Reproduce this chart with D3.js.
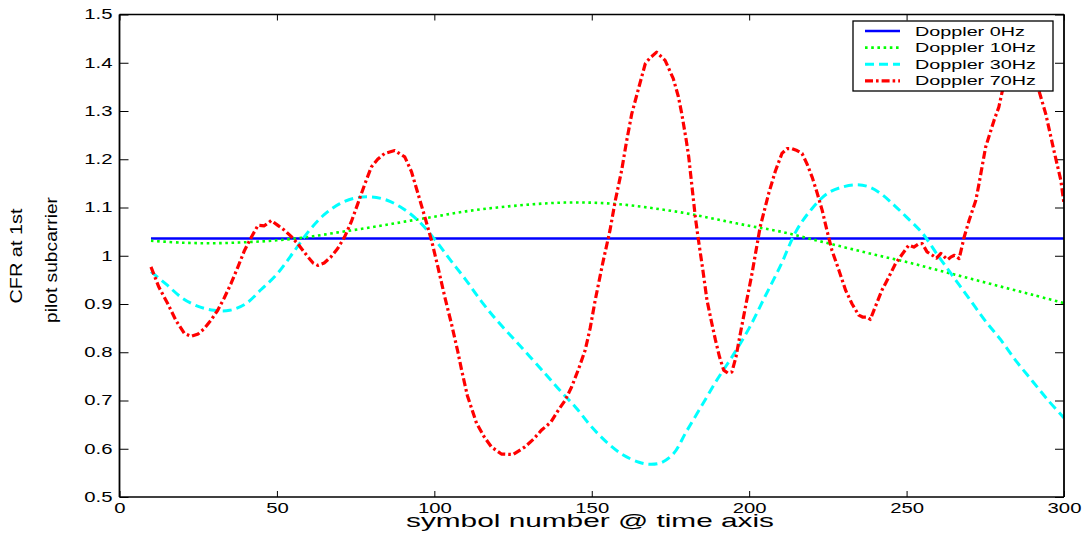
<!DOCTYPE html>
<html>
<head>
<meta charset="utf-8">
<script src="https://cdn.jsdelivr.net/npm/d3@7"></script>
<style>
  body { margin: 0; background: #fff; }
  svg { display: block; }
  text { font-family: "Liberation Sans", Arial, Helvetica, sans-serif; fill: #000; }
</style>
</head>
<body>
<svg id="chart" width="1089" height="536"></svg>
<script>
// Axis ticks
const xTicks = [0, 50, 100, 150, 200, 250, 300];
const yTicks = [0.5, 0.6, 0.7, 0.8, 0.9, 1.0, 1.1, 1.2, 1.3, 1.4, 1.5];
const yTickLabels = ["0.5", "0.6", "0.7", "0.8", "0.9", "1", "1.1", "1.2", "1.3", "1.4", "1.5"];

// Series names
const seriesNames = ["Doppler 0Hz", "Doppler 10Hz", "Doppler 30Hz", "Doppler 70Hz"];

// Doppler 0Hz
const dop0X = [10, 300];
const dop0Y = [1.036, 1.036];

// Doppler 10Hz
const dop10X = [10, 20, 30, 40, 50, 60, 70, 80, 90, 100, 110, 120, 130, 140, 150,
  160, 170, 180, 190, 200, 210, 220, 230, 240, 250, 260, 270, 280, 290, 300];
const dop10Y = [1.031, 1.027, 1.026, 1.028, 1.032, 1.039, 1.049, 1.059, 1.070, 1.081,
  1.092, 1.100, 1.106, 1.110, 1.110, 1.106, 1.098, 1.088, 1.075, 1.062, 1.050, 1.034,
  1.018, 1.002, 0.987, 0.970, 0.953, 0.936, 0.919, 0.902];

// Doppler 30Hz
const dop30X = [10, 15, 20, 25, 30, 35, 40, 45, 50, 55, 60, 65, 70, 75, 80, 85, 90, 95,
  100, 105, 110, 115, 120, 127, 135, 140, 145, 150, 155, 160, 165, 168, 172, 176, 180,
  185, 190, 195, 200, 205, 210, 215, 220, 225, 230, 234, 238, 242, 246, 250, 255, 260,
  265, 270, 275, 280, 285, 290, 295, 300];
const dop30Y = [0.967, 0.940, 0.912, 0.895, 0.887, 0.887, 0.900, 0.930, 0.962, 1.005,
  1.050, 1.085, 1.108, 1.120, 1.122, 1.115, 1.098, 1.072, 1.035, 0.992, 0.950, 0.905,
  0.865, 0.815, 0.757, 0.720, 0.685, 0.645, 0.612, 0.587, 0.572, 0.568, 0.571, 0.590,
  0.635, 0.690, 0.745, 0.795, 0.850, 0.915, 0.980, 1.052, 1.098, 1.130, 1.143, 1.147,
  1.143, 1.128, 1.105, 1.080, 1.047, 1.000, 0.955, 0.910, 0.865, 0.825, 0.780, 0.740,
  0.700, 0.664];

// Doppler 70Hz
const dop70X = [10, 12.5, 15.3, 18, 20.6, 22.7, 25, 26.9, 29, 31.2, 33.3, 35.4, 37.5,
  39.7, 42, 44, 46, 48.2, 50.3, 52.4, 54.5, 56.6, 59.8, 61.5, 63, 65, 67.2, 69.3, 71.5,
  73.6, 75.7, 78, 80, 82, 84.2, 87.4, 90.6, 92.7, 94.8, 97, 99.1, 101.2, 103.3, 105.4,
  107.5, 108.6, 110.5, 113.4, 115.8, 118.1, 121.3, 125, 128.8, 131.5, 134.1, 137, 139.4,
  141.5, 143.6, 145.8, 147.9, 149.5, 151.1, 153.5, 155.8, 157.5, 159.5, 161, 162.7, 165,
  167, 168.5, 170.6, 173.3, 175.9, 177.5, 178.6, 180, 180.8, 182.9, 183.9, 185.3, 186.6,
  187.8, 189.3, 190.6, 191.9, 193.2, 194.5, 195.8, 197.2, 199, 200.9, 203.5, 206.2,
  208.3, 210.4, 212, 213.6, 215.2, 216.8, 218.4, 220, 221.6, 223.2, 224.8, 226.3, 228.5,
  230.6, 232.7, 234.8, 236, 237.4, 238.5, 239.8, 242.2, 244.3, 246.5, 248.6, 250.7,
  252.3, 253.9, 255, 256.5, 258.2, 259.5, 260.9, 262, 263, 264, 265.2, 266.7, 268.3,
  269.9, 272, 273, 275.1, 277.8, 279.3, 280.9, 283, 285, 287, 289, 290.5, 292, 294.2,
  296.8, 299, 300];
const dop70Y = [0.977, 0.935, 0.901, 0.865, 0.839, 0.833, 0.838, 0.849, 0.866, 0.887,
  0.913, 0.942, 0.975, 1.011, 1.040, 1.063, 1.062, 1.073, 1.063, 1.053, 1.040, 1.025,
  0.998, 0.985, 0.980, 0.985, 0.998, 1.015, 1.039, 1.070, 1.108, 1.150, 1.184, 1.200,
  1.212, 1.218, 1.205, 1.175, 1.129, 1.080, 1.032, 0.975, 0.915, 0.860, 0.800, 0.765,
  0.710, 0.653, 0.625, 0.604, 0.589, 0.588, 0.604, 0.620, 0.639, 0.655, 0.680, 0.700,
  0.728, 0.765, 0.804, 0.850, 0.908, 0.985, 1.053, 1.115, 1.177, 1.235, 1.294, 1.350,
  1.398, 1.410, 1.422, 1.405, 1.367, 1.330, 1.294, 1.240, 1.205, 1.080, 1.032, 0.970,
  0.908, 0.870, 0.825, 0.790, 0.763, 0.757, 0.759, 0.790, 0.839, 0.900, 0.963, 1.060,
  1.129, 1.175, 1.212, 1.222, 1.222, 1.218, 1.212, 1.190, 1.163, 1.130, 1.094, 1.050,
  1.011, 0.970, 0.929, 0.900, 0.877, 0.873, 0.873, 0.868, 0.890, 0.929, 0.955, 0.984,
  1.003, 1.022, 1.018, 1.025, 1.025, 1.008, 1.001, 0.995, 1.005, 0.998, 0.992, 0.997,
  1.001, 0.994, 1.039, 1.074, 1.115, 1.149, 1.225, 1.281, 1.308, 1.356, 1.390, 1.415,
  1.430, 1.420, 1.385, 1.343, 1.294, 1.218, 1.156, 1.108];

const seriesX = [dop0X, dop10X, dop30X, dop70X];
const seriesY = [dop0Y, dop10Y, dop30Y, dop70Y];

// Line styles (solid, dotted, dashed, dash-dot)
const styles = [
  { color: "#0000ff", dash: null,        width: 2.5, curve: d3.curveLinear },
  { color: "#00ff00", dash: "2.6,3.6",   width: 2.6, curve: d3.curveCatmullRom },
  { color: "#00ffff", dash: "9,5",       width: 3,   curve: d3.curveCatmullRom },
  { color: "#ff0000", dash: "8,3,2.6,3", width: 3.2, curve: d3.curveLinear }
];

const svg = d3.select("#chart");
const plotL = 119.5, plotR = 1064, plotT = 14.5, plotB = 497;

const x = d3.scaleLinear().domain([0, 300]).range([plotL, plotR]);
const y = d3.scaleLinear().domain([0.5, 1.5]).range([plotB, plotT]);

// Stretch text horizontally to the wide letterforms of the figure
function stretch(sel, k) {
  sel.each(function () {
    const len = this.getComputedTextLength();
    d3.select(this).attr("textLength", len * k).attr("lengthAdjust", "spacingAndGlyphs");
  });
}

svg.append("rect").attr("width", 1089).attr("height", 536).attr("fill", "#fff");

// Axes with inward ticks on all four sides
const fmtY = d => yTickLabels[yTicks.findIndex(v => Math.abs(v - d) < 1e-9)];

const gx = svg.append("g").attr("transform", `translate(0,${plotB})`)
  .call(d3.axisBottom(x).tickValues(xTicks).tickSizeInner(-6).tickSizeOuter(0).tickPadding(6));
const gy = svg.append("g").attr("transform", `translate(${plotL},0)`)
  .call(d3.axisLeft(y).tickValues(yTicks).tickFormat(fmtY).tickSizeInner(-9).tickSizeOuter(0).tickPadding(7));
const gt = svg.append("g").attr("transform", `translate(0,${plotT})`)
  .call(d3.axisTop(x).tickValues(xTicks).tickFormat("").tickSizeInner(-6).tickSizeOuter(0));
const gr = svg.append("g").attr("transform", `translate(${plotR},0)`)
  .call(d3.axisRight(y).tickValues(yTicks).tickFormat("").tickSizeInner(-9).tickSizeOuter(0));

[gx, gy, gt, gr].forEach(g => {
  g.attr("font-family", null).attr("font-size", null);
  g.select(".domain").remove();
  g.selectAll(".tick line").attr("stroke", "#000").attr("stroke-width", 1);
});
[gx, gy].forEach(g => {
  g.selectAll(".tick text").attr("font-size", 14).attr("fill", "#000");
  stretch(g.selectAll(".tick text"), 1.45);
});

// Data lines
const defs = svg.append("defs");
defs.append("clipPath").attr("id", "plotClip").append("rect")
  .attr("x", plotL).attr("y", plotT).attr("width", plotR - plotL).attr("height", plotB - plotT);

const plot = svg.append("g").attr("clip-path", "url(#plotClip)");
seriesX.forEach((xs, i) => {
  const pts = xs.map((v, j) => [v, seriesY[i][j]]);
  const line = d3.line().x(d => x(d[0])).y(d => y(d[1])).curve(styles[i].curve);
  plot.append("path")
    .attr("d", line(pts))
    .attr("fill", "none")
    .attr("stroke", styles[i].color)
    .attr("stroke-width", styles[i].width)
    .attr("stroke-dasharray", styles[i].dash)
    .attr("stroke-linejoin", "round");
});

// Plot box
const box = svg.append("g").attr("stroke", "#000").attr("fill", "none");
box.append("line").attr("x1", plotL).attr("x2", plotR).attr("y1", plotT).attr("y2", plotT).attr("stroke-width", 1.3);
box.append("line").attr("x1", plotL).attr("x2", plotR).attr("y1", plotB).attr("y2", plotB).attr("stroke-width", 1.6);
box.append("line").attr("x1", plotL).attr("x2", plotL).attr("y1", plotT).attr("y2", plotB).attr("stroke-width", 1.8);
box.append("line").attr("x1", plotR).attr("x2", plotR).attr("y1", plotT).attr("y2", plotB).attr("stroke-width", 1.8);

// Legend
const lg = svg.append("g");
lg.append("rect").attr("x", 853).attr("y", 21).attr("width", 200).attr("height", 70)
  .attr("fill", "#fff").attr("stroke", "#000").attr("stroke-width", 1.3);
seriesNames.forEach((name, i) => {
  const yy = 31 + i * 16.6;
  lg.append("line").attr("x1", 865).attr("x2", 900).attr("y1", yy).attr("y2", yy)
    .attr("stroke", styles[i].color)
    .attr("stroke-width", styles[i].width)
    .attr("stroke-dasharray", styles[i].dash);
  lg.append("text").attr("x", 915).attr("y", yy).attr("dy", "0.36em")
    .attr("font-size", 13).text(name);
});
stretch(lg.selectAll("text"), 1.52);

// Axis titles
svg.append("text").attr("x", 590).attr("y", 527).attr("text-anchor", "middle")
  .attr("font-size", 19).attr("textLength", 368).attr("lengthAdjust", "spacingAndGlyphs")
  .text("symbol number @ time axis");

svg.append("text").attr("transform", "translate(22,256) rotate(-90)")
  .attr("text-anchor", "middle").attr("font-size", 17)
  .attr("textLength", 95).attr("lengthAdjust", "spacingAndGlyphs")
  .text("CFR at 1st");
svg.append("text").attr("transform", "translate(57,260) rotate(-90)")
  .attr("text-anchor", "middle").attr("font-size", 17)
  .attr("textLength", 126).attr("lengthAdjust", "spacingAndGlyphs")
  .text("pilot subcarrier");
</script>
</body>
</html>
